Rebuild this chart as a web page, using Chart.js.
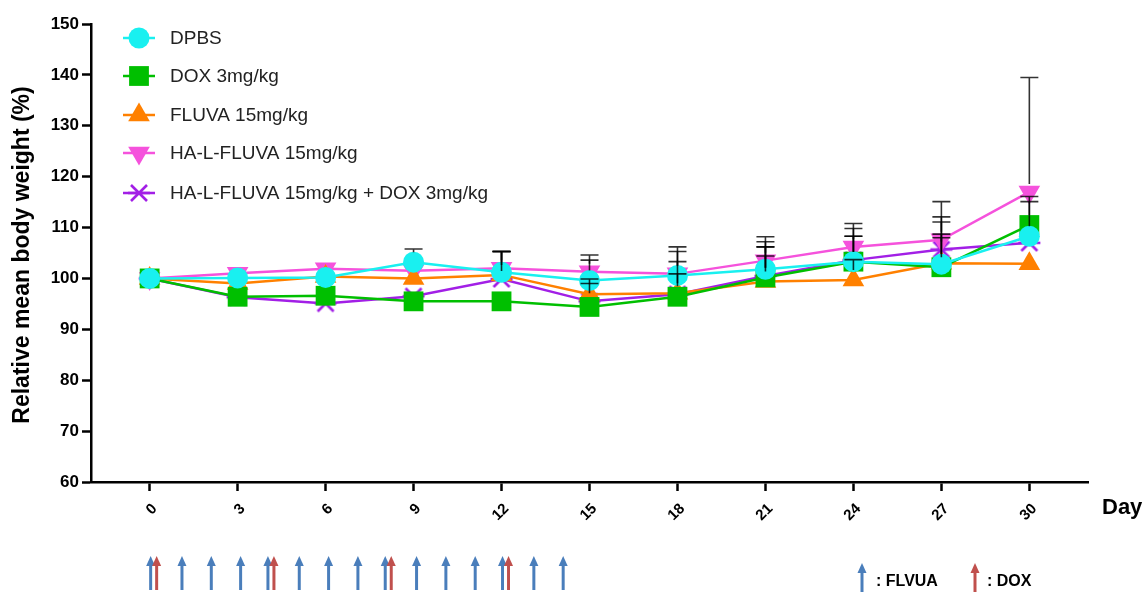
<!DOCTYPE html>
<html>
<head>
<meta charset="utf-8">
<script src="https://cdn.jsdelivr.net/npm/chart.js@4.4.1/dist/chart.umd.min.js"></script>
<style>
  body { margin: 0; background: #fff; }
  #wrap { width: 1148px; height: 592px; }
</style>
</head>
<body>
<div id="wrap"><canvas id="weightChart" width="1148" height="592"></canvas></div>
<script>
// Day of measurement
var days = [0, 3, 6, 9, 12, 15, 18, 21, 24, 27, 30];

// Relative mean body weight (%) per group
var dpbs       = [100, 100.1, 100.2, 103.2, 101.2, 99.6, 100.6, 101.8, 103.3, 102.8, 108.3];
var dox        = [100, 96.4, 96.6, 95.5, 95.5, 94.4, 96.4, 100.2, 103.3, 102.2, 110.5];
var fluva      = [100, 99.0, 100.4, 100.0, 100.7, 96.9, 97.1, 99.4, 99.7, 103.0, 102.9];
var haFluva    = [100, 101.0, 101.9, 101.5, 102.0, 101.3, 100.9, 103.5, 106.2, 107.6, 117.0];
var haFluvaDox = [100, 96.3, 95.1, 96.5, 99.9, 95.5, 96.9, 100.5, 103.6, 105.7, 107.0];

// Upper error bars (SD)
var dpbsSd       = [0, 0, 0, 2.6, 4.1, 5.0, 5.6, 6.4, 6.5, 9.3, 6.8];
var doxSd        = [0, 0, 0, 0, 0, 0, 0, 6.0, 5.0, 6.5, 5.6];
var fluvaSd      = [0, 0, 0, 0, 4.6, 3.0, 6.2, 5.0, 4.0, 5.0, 0];
var haFluvaSd    = [0, 1.0, 1.4, 0, 3.3, 2.3, 4.4, 3.7, 4.6, 7.5, 22.5];
var haFluvaDoxSd = [0, 0, 0, 0, 5.4, 3.5, 4.0, 5.7, 4.7, 5.4, 0];

// Dosing schedule (days)
var fluvaDays = [0, 1, 2, 3, 4, 5, 6, 7, 8, 9, 10, 11, 12, 13, 14];
var doxDays = [0, 4, 8, 12];

var yTicks = [60, 70, 80, 90, 100, 110, 120, 130, 140, 150];

var FONT = "Arial, 'Liberation Sans', sans-serif";

function starMarker(color) {
    var c = document.createElement('canvas');
    c.width = 24; c.height = 24;
    var g = c.getContext('2d');
    g.strokeStyle = color;
    g.lineWidth = 2.6;
    g.beginPath();
    g.moveTo(4, 4); g.lineTo(20, 20);
    g.moveTo(20, 4); g.lineTo(4, 20);
    g.moveTo(1, 12); g.lineTo(23, 12);
    g.stroke();
    return c;
}

var purpleStar = starMarker('#a21fe6');

function pts(arr) {
    return days.map(function (d, i) { return { x: d, y: arr[i] }; });
}

var series = [
    { label: 'DPBS', data: dpbs, sd: dpbsSd, color: '#19f0f0', style: 'circle', radius: 10.5, rot: 0, half: 10 },
    { label: 'DOX 3mg/kg', data: dox, sd: doxSd, color: '#00bf00', style: 'rect', radius: 14, rot: 0, half: 10 },
    { label: 'FLUVA 15mg/kg', data: fluva, sd: fluvaSd, color: '#ff8000', style: 'triangle', radius: 12.5, rot: 0, half: 10 },
    { label: 'HA-L-FLUVA 15mg/kg', data: haFluva, sd: haFluvaSd, color: '#f552dc', style: 'triangle', radius: 12.5, rot: 180, half: 8 },
    { label: 'HA-L-FLUVA 15mg/kg + DOX 3mg/kg', data: haFluvaDox, sd: haFluvaDoxSd, color: '#a21fe6', style: purpleStar, radius: 12, rot: 0, half: 8 }
];

var errorBars = {
    id: 'errorBars',
    afterDatasetsDraw: function (chart) {
        var ctx = chart.ctx;
        var ys = chart.scales.y, xs = chart.scales.x;
        ctx.save();
        ctx.strokeStyle = 'rgba(0,0,0,0.8)';
        ctx.lineWidth = 1.6;
        series.forEach(function (s) {
            days.forEach(function (d, i) {
                if (!s.sd[i]) return;
                var x = xs.getPixelForValue(d);
                var y0 = ys.getPixelForValue(s.data[i]) - s.half;
                var y1 = ys.getPixelForValue(s.data[i] + s.sd[i]);
                if (y1 >= y0 - 1) return;
                ctx.beginPath();
                ctx.moveTo(x, y0); ctx.lineTo(x, y1);
                ctx.moveTo(x - 9, y1); ctx.lineTo(x + 9, y1);
                ctx.stroke();
            });
        });
        ctx.restore();
    }
};

function drawArrow(ctx, x, yTop, yBot, color) {
    ctx.save();
    ctx.fillStyle = color;
    ctx.strokeStyle = color;
    ctx.lineWidth = 3;
    ctx.beginPath();
    ctx.moveTo(x, yBot); ctx.lineTo(x, yTop + 8);
    ctx.stroke();
    ctx.beginPath();
    ctx.moveTo(x, yTop);
    ctx.lineTo(x - 4.5, yTop + 10);
    ctx.lineTo(x + 4.5, yTop + 10);
    ctx.closePath();
    ctx.fill();
    ctx.restore();
}

var decorations = {
    id: 'decorations',
    afterDraw: function (chart) {
        var ctx = chart.ctx;
        var xs = chart.scales.x;

        // legend in the upper-left of the plot
        var legendY = [38, 76, 115, 153, 193];
        series.forEach(function (s, i) {
            var y = legendY[i];
            ctx.save();
            ctx.strokeStyle = s.color;
            ctx.lineWidth = 2.5;
            ctx.beginPath();
            ctx.moveTo(123, y); ctx.lineTo(155, y);
            ctx.stroke();
            ctx.fillStyle = s.color;
            Chart.helpers.drawPoint(ctx, { pointStyle: s.style, rotation: s.rot, radius: s.radius, borderWidth: 0 }, 139, y);
            ctx.fillStyle = '#222';
            ctx.font = '19px ' + FONT;
            ctx.textBaseline = 'middle';
            ctx.fillText(s.label, 170, y + 1);
            ctx.restore();
        });

        // y axis title
        ctx.save();
        ctx.translate(23, 255);
        ctx.rotate(-Math.PI / 2);
        ctx.font = 'bold 23px ' + FONT;
        ctx.fillStyle = '#000';
        ctx.textAlign = 'center';
        ctx.textBaseline = 'middle';
        ctx.fillText('Relative mean body weight (%)', 0, 0);
        ctx.restore();

        // "Day" label
        ctx.save();
        ctx.font = 'bold 22px ' + FONT;
        ctx.fillStyle = '#000';
        ctx.textBaseline = 'middle';
        ctx.fillText('Day', 1102, 508);
        ctx.restore();

        // dosing arrows
        fluvaDays.forEach(function (d) {
            var x = xs.getPixelForValue(d);
            var paired = doxDays.indexOf(d) >= 0;
            drawArrow(ctx, paired ? x + 1 : x + 3, 556, 590, '#4a7ebb');
        });
        doxDays.forEach(function (d) {
            var x = xs.getPixelForValue(d);
            drawArrow(ctx, x + 7, 556, 590, '#c0504d');
        });

        // arrow key
        drawArrow(ctx, 862, 563, 592, '#4a7ebb');
        drawArrow(ctx, 975, 563, 592, '#c0504d');
        ctx.save();
        ctx.font = 'bold 16px ' + FONT;
        ctx.fillStyle = '#000';
        ctx.textBaseline = 'middle';
        ctx.fillText(': FLVUA', 876, 582);
        ctx.fillText(': DOX', 987, 582);
        ctx.restore();
    }
};

var ctx = document.getElementById('weightChart').getContext('2d');
var weightChart = new Chart(ctx, {
    type: 'line',
    data: {
        datasets: series.map(function (s) {
            return {
                label: s.label,
                data: pts(s.data),
                borderColor: s.color,
                backgroundColor: s.color,
                borderWidth: 2.5,
                pointStyle: s.style,
                pointRotation: s.rot,
                pointRadius: s.radius,
                pointBorderWidth: 0,
                pointHoverRadius: s.radius,
                tension: 0,
                fill: false
            };
        })
    },
    options: {
        responsive: false,
        animation: false,
        layout: { padding: { top: 24, right: 60, bottom: 0, left: 0 } },
        plugins: {
            legend: { display: false },
            tooltip: { enabled: false }
        },
        scales: {
            x: {
                type: 'linear',
                min: -2,
                max: 32,
                afterBuildTicks: function (scale) {
                    scale.ticks = days.map(function (d) { return { value: d }; });
                },
                afterFit: function (scale) { scale.height = 110; },
                border: { display: true, color: '#000', width: 2.5 },
                grid: { drawOnChartArea: false, drawTicks: true, tickLength: 9, tickColor: '#000', tickWidth: 2.5 },
                ticks: {
                    color: '#000',
                    font: { family: FONT, size: 15, weight: 'bold' },
                    minRotation: 45,
                    maxRotation: 45,
                    labelOffset: 5,
                    padding: 9
                }
            },
            y: {
                min: 60,
                max: 150,
                afterBuildTicks: function (scale) {
                    scale.ticks = yTicks.map(function (v) { return { value: v }; });
                },
                afterFit: function (scale) { scale.width = 91; },
                border: { display: true, color: '#000', width: 2.5 },
                grid: { drawOnChartArea: false, drawTicks: true, tickLength: 9, tickColor: '#000', tickWidth: 2.5 },
                ticks: {
                    color: '#000',
                    font: { family: FONT, size: 17, weight: 'bold' },
                    padding: 3
                }
            }
        }
    },
    plugins: [errorBars, decorations]
});
</script>
</body>
</html>
